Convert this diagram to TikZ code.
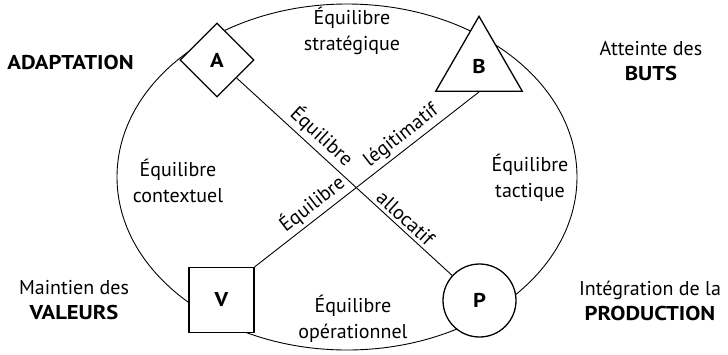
\documentclass[tikz,border=0pt]{standalone}
\usepackage{fontspec}
\setmainfont{PT Sans}[BoldFeatures={FakeStretch=1.13}]
\usetikzlibrary{shapes.geometric}
\begin{document}
\begin{tikzpicture}[x=1pt,y=-1pt,
  txt/.style={font=\fontsize{20}{25.5}\selectfont, align=center},
  boldtxt/.style={txt, font=\fontsize{20}{25.5}\selectfont\bfseries},
  frame/.style={draw, line width=1.3pt, fill=white, inner sep=0pt,
    font=\fontsize{20}{24}\selectfont\bfseries},
  link/.style={line width=0.9pt},
  linklabel/.style={txt, sloped, above}]
\useasboundingbox (0,0) rectangle (728,354);

% outer ellipse behind the four poles
\draw[line width=0.9pt] (347,177) ellipse [x radius=230pt, y radius=173pt];

% the four poles
\node[frame, diamond, minimum width=74pt, minimum height=74pt] (A) at (217,60) {A};
\node[frame, regular polygon, regular polygon sides=3, minimum size=100pt] (B) at (479,66.3) {B};
\node[frame, rectangle, minimum size=65pt] (V) at (221.5,300) {V};
\node[frame, circle, minimum size=73pt] (P) at (479.5,300.5) {P};

% diagonals with their labels
\draw[link] (A) -- (P)
  node[linklabel, pos=0.35] {Équilibre}
  node[linklabel, pos=0.75] {allocatif};
\draw[link] (V.north east) -- (B.side 2)
  node[linklabel, pos=0.295] {Équilibre}
  node[linklabel, pos=0.69] {légitimatif};

% equilibria between neighbouring poles
\node[txt] (strat) at (352,31) {Équilibre\\stratégique};
\node[txt] (ctx) at (178,181) {Équilibre\\contextuel};
\node[txt] (tact) at (530,178) {Équilibre\\tactique};
\node[txt] (oper) at (353,319) {Équilibre\\opérationnel};

% functions named at the corners
\node[boldtxt] (adapt) at (70.5,62) {ADAPTATION};
\node[txt] (buts) at (651,61) {Atteinte des\\\textbf{BUTS}};
\node[txt] (val) at (74,300) {Maintien des\\\textbf{VALEURS}};
\node[txt] (prod) at (650,301) {Intégration de la\\\textbf{PRODUCTION}};
\end{tikzpicture}
\end{document}
